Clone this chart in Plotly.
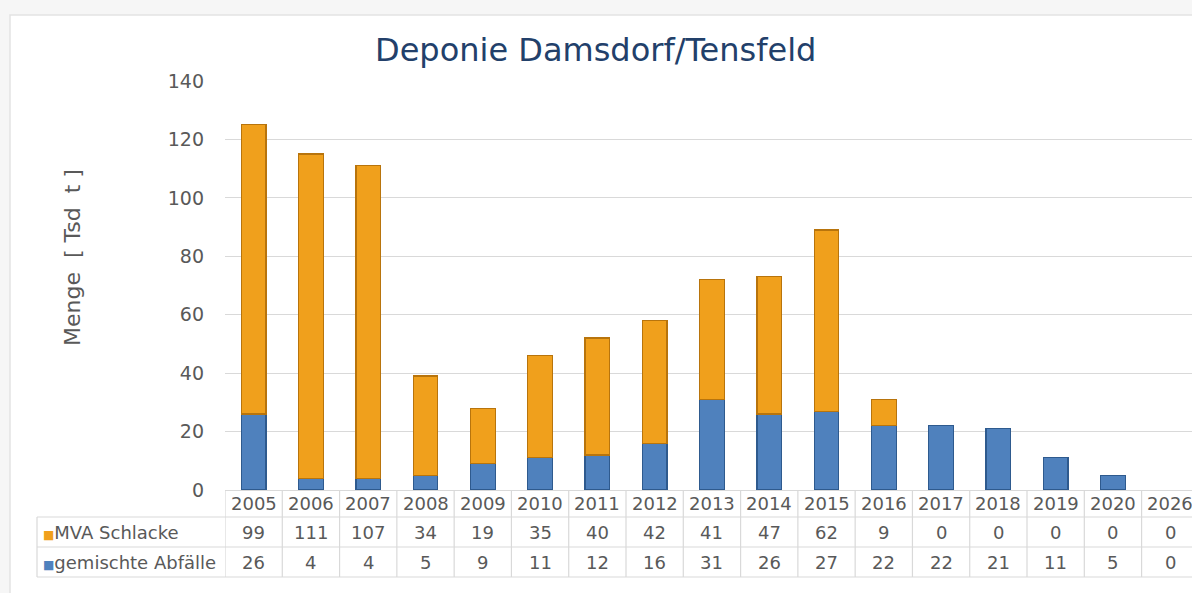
import plotly.graph_objects as go

years = ["2005", "2006", "2007", "2008", "2009", "2010", "2011", "2012", "2013",
         "2014", "2015", "2016", "2017", "2018", "2019", "2020", "2026"]
mva_schlacke = [99, 111, 107, 34, 19, 35, 40, 42, 41, 47, 62, 9, 0, 0, 0, 0, 0]
gemischte_abfaelle = [26, 4, 4, 5, 9, 11, 12, 16, 31, 26, 27, 22, 22, 21, 11, 5, 0]
series_names = ["MVA Schlacke", "gemischte Abfälle"]
y_ticks = [0, 20, 40, 60, 80, 100, 120, 140]

ORANGE = "#F0A01C"
ORANGE_LINE = "#B8740C"
BLUE = "#4F81BD"
BLUE_LINE = "#2E5A8E"
GRID = "#D9D9D9"
TXT = "#595959"
FONT = "DejaVu Sans"

W, H = 1192, 593
L, R, T, B = 225, 0, 81, 103
PW = W - L - R
PH = H - T - B


def px_x(px):
    return (px - L) / PW


def px_y(py):
    return (H - B - py) / PH


fig = go.Figure()
fig.add_trace(go.Bar(x=years, y=gemischte_abfaelle, name=series_names[1],
                     marker=dict(color=BLUE,
                                 line=dict(color=BLUE_LINE,
                                           width=[1.2 if v > 0 else 0 for v in gemischte_abfaelle]))))
fig.add_trace(go.Bar(x=years, y=mva_schlacke, name=series_names[0],
                     marker=dict(color=ORANGE,
                                 line=dict(color=ORANGE_LINE,
                                           width=[1.2 if v > 0 else 0 for v in mva_schlacke]))))

shapes = []
annotations = []

# chart frame
shapes.append(dict(type="rect", xref="paper", yref="paper", layer="below",
                   x0=px_x(10), x1=px_x(1250), y0=px_y(640), y1=px_y(15),
                   fillcolor="white", line=dict(color="#E3E3E3", width=1.5)))

# table grid
n = len(years)
row_lines = [517, 547, 577]
for py in row_lines:
    shapes.append(dict(type="line", xref="paper", yref="paper",
                       x0=px_x(37), x1=1.0, y0=px_y(py), y1=px_y(py),
                       line=dict(color=GRID, width=1.2)))
shapes.append(dict(type="line", xref="paper", yref="paper",
                   x0=px_x(37), x1=px_x(37), y0=px_y(517), y1=px_y(577),
                   line=dict(color=GRID, width=1.2)))
for i in range(n + 1):
    xv = i - 0.5
    shapes.append(dict(type="line", xref="x", yref="paper",
                       x0=xv, x1=xv, y0=px_y(490), y1=px_y(577),
                       line=dict(color=GRID, width=1.2)))

row_centers = [503, 532, 562]
tfont = dict(size=18, color=TXT, family=FONT)
for i, yr in enumerate(years):
    for text, py in [(yr, row_centers[0]), (str(mva_schlacke[i]), row_centers[1]),
                     (str(gemischte_abfaelle[i]), row_centers[2])]:
        annotations.append(dict(x=i, y=px_y(py), xref="x", yref="paper",
                                xanchor="center", yanchor="middle",
                                text=text, showarrow=False, font=tfont))

for name, col, py in [(series_names[0], ORANGE, row_centers[1]),
                      (series_names[1], BLUE, row_centers[2])]:
    annotations.append(dict(x=px_x(41), y=px_y(py), xref="paper", yref="paper",
                            xanchor="left", yanchor="middle",
                            text=f"<span style='color:{col};font-size:12px'>■</span>{name}",
                            showarrow=False, font=tfont))

# y-axis title
annotations.append(dict(x=px_x(72), y=px_y(258), xref="paper", yref="paper",
                        xanchor="center", yanchor="middle",
                        text="Menge  [ Tsd  t ]", textangle=-90, showarrow=False,
                        font=dict(size=22, color=TXT, family=FONT)))
# chart title
annotations.append(dict(x=px_x(595), y=px_y(50), xref="paper", yref="paper",
                        xanchor="center", yanchor="middle",
                        text="Deponie Damsdorf/Tensfeld", showarrow=False,
                        font=dict(size=32, color="#22406A", family=FONT)))

fig.update_layout(
    width=W, height=H,
    margin=dict(l=L, r=R, t=T, b=B),
    barmode="stack",
    bargap=0.57,
    showlegend=False,
    paper_bgcolor="#F6F6F6",
    plot_bgcolor="white",
    shapes=shapes,
    annotations=annotations,
    xaxis=dict(type="category", range=[-0.5, 16.38], showticklabels=False,
               showgrid=False, showline=True, linecolor=GRID, linewidth=1.2,
               zeroline=False),
    yaxis=dict(range=[0, 140], tickvals=y_ticks, showgrid=True, gridcolor=GRID,
               gridwidth=1.2, zeroline=False, showline=False, ticks="",
               ticklabelstandoff=20,
               tickfont=dict(size=19, color=TXT, family=FONT)),
)

fig.write_html("out.html", config={"displayModeBar": False},
               post_script="document.body.style.margin='0';document.body.style.overflow='hidden';")
